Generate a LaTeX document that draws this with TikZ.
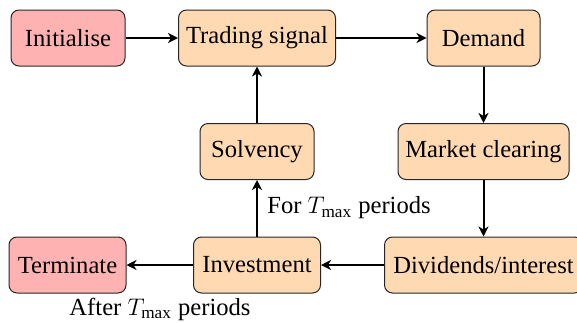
\documentclass[tikz,border=0pt]{standalone}
\usepackage{fontspec}
\setmainfont{Liberation Serif}
\usetikzlibrary{arrows.meta}
\begin{document}
\begin{tikzpicture}[x=0.5pt,y=-0.5pt,
  box/.style={draw=black!85,line width=0.5pt,rounded corners=4pt,minimum height=28pt,inner sep=0pt,font=\fontsize{12.3}{14}\selectfont},
  startbox/.style={box,fill=red!30},
  procbox/.style={box,fill=orange!30},
  flow/.style={-{Stealth[length=5pt,width=5pt,inset=1.5pt]},line width=1pt},
  lbl/.style={font=\fontsize{12.3}{14}\selectfont,inner sep=0pt}]
\useasboundingbox (0,0) rectangle (577,322);
\node[startbox,minimum width=57pt] (init) at (68,38) {Initialise};
\node[procbox,minimum width=78.5pt] (sig) at (257,38) {Trading signal};
\node[procbox,minimum width=56.5pt] (dem) at (483.5,38) {Demand};
\node[procbox,minimum width=57pt] (solv) at (257,151.5) {Solvency};
\node[procbox,minimum width=85.5pt] (mc) at (483.5,151.5) {Market clearing};
\node[startbox,minimum width=58.5pt] (term) at (67.5,265) {Terminate};
\node[procbox,minimum width=63.5pt] (inv) at (257,265) {Investment};
\node[procbox,minimum width=99pt] (div) at (483.5,265) {Dividends/interest};
\draw[flow] (init) -- (sig);
\draw[flow] (sig) -- (dem);
\draw[flow] (dem) -- (mc);
\draw[flow] (mc) -- (div);
\draw[flow] (div) -- (inv);
\draw[flow] (inv) -- (term);
\draw[flow] (inv) -- (solv);
\draw[flow] (solv) -- (sig);
\node[lbl,anchor=west] (forl) at (267,208) {For $T_{\max}$ periods};
\node[lbl] (afterl) at (160,309) {After $T_{\max}$ periods};
\end{tikzpicture}
\end{document}
